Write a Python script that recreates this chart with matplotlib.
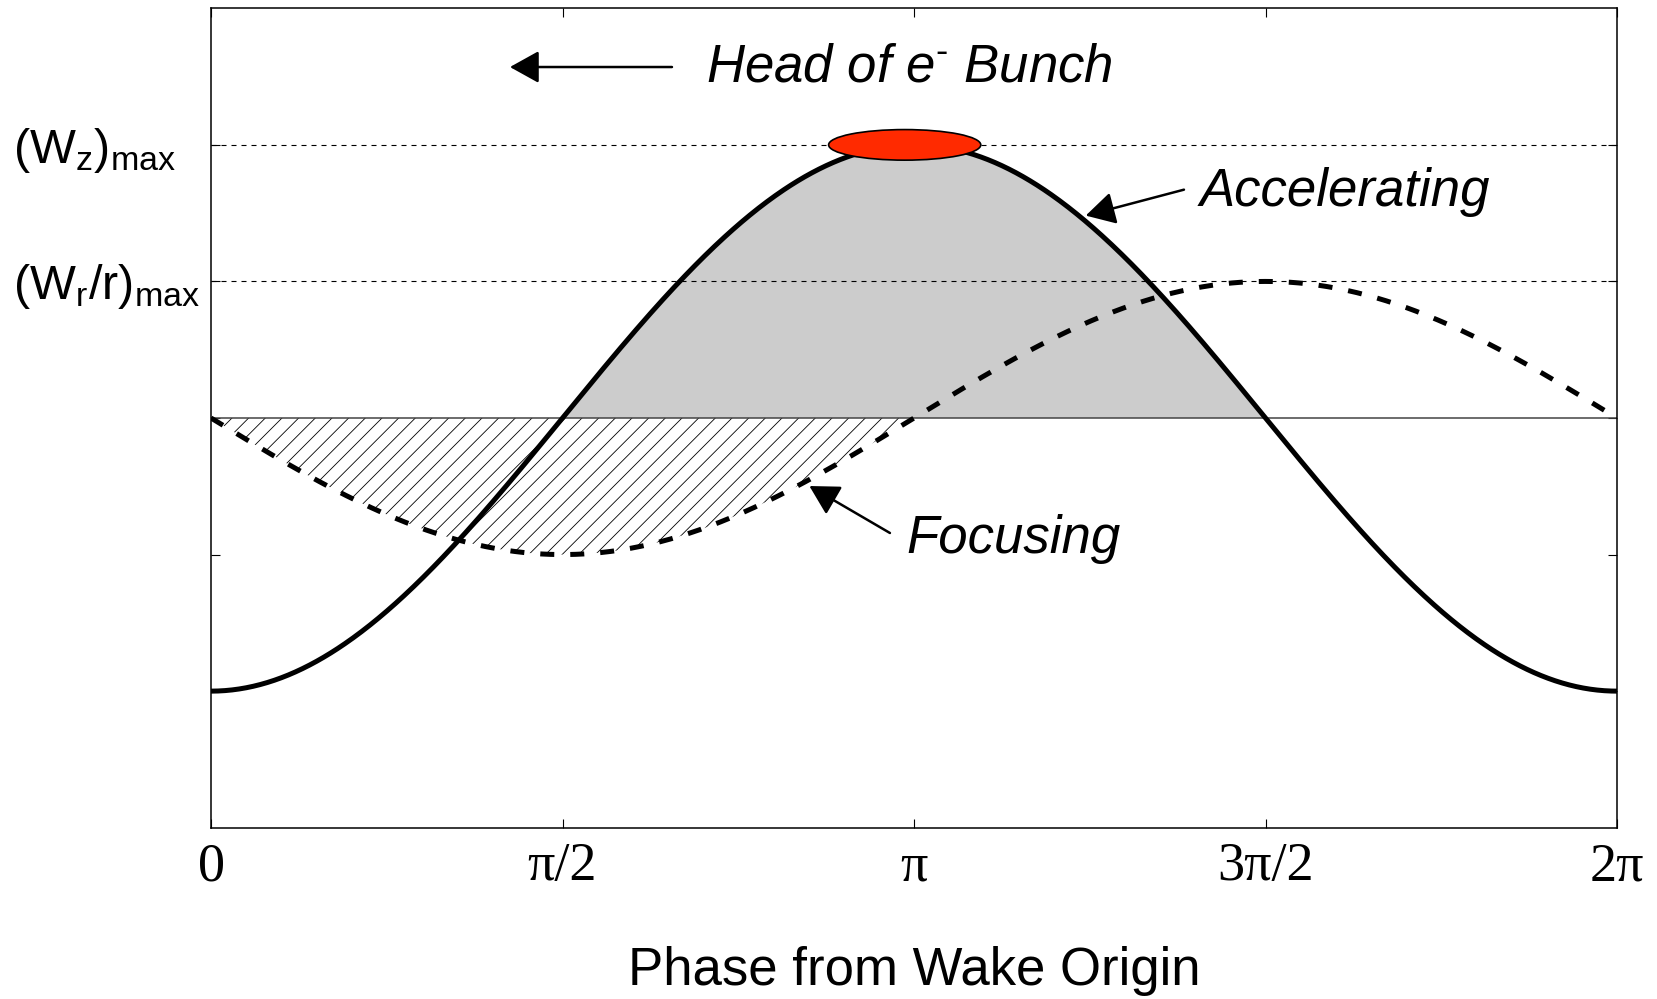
import numpy as np
import matplotlib
matplotlib.use("Agg")
import matplotlib.pyplot as plt
from matplotlib.patches import Ellipse
from matplotlib import transforms

# ---- data ----
phase_start, phase_end = 0.0, 2 * np.pi
wz_amplitude = 1.0          # accelerating field (W_z)max
wr_amplitude = 0.5          # focusing field (W_r/r)max
xtick_values = [0, np.pi / 2, np.pi, 3 * np.pi / 2, 2 * np.pi]
xtick_labels = ["0", "π/2", "π", "3π/2", "2π"]
ytick_values = [-1.0, -0.5, 0.0, 0.5, 1.0]
ylabel_texts = [r"$\mathregular{(W_z)_{max}}$", r"$\mathregular{(W_r/r)_{max}}$"]
ylabel_levels = [1.0, 0.5]
bunch_center = (3.10, 1.0)
bunch_size = (0.68, 0.112)
x_label = "Phase from Wake Origin"

plt.rcParams["mathtext.fontset"] = "custom"
plt.rcParams["mathtext.rm"] = "Liberation Sans"
plt.rcParams["mathtext.it"] = "Liberation Sans:italic"
plt.rcParams["font.family"] = ["Liberation Sans", "DejaVu Sans"]
plt.rcParams["hatch.linewidth"] = 0.6

phi = np.linspace(phase_start, phase_end, 1000)
wz = -wz_amplitude * np.cos(phi)
wr = -wr_amplitude * np.sin(phi)

fig = plt.figure(figsize=(16.57, 9.99), dpi=100)
ax = fig.add_axes([211 / 1657, (999 - 827.7) / 999, 1406 / 1657, (827.7 - 8.3) / 999])

# fills
ax.fill_between(phi, wz, 0, where=wz > 0, facecolor="#cccccc", edgecolor="none", zorder=1)
ax.fill_between(phi, wr, 0, where=wr < 0, facecolor="none", edgecolor="black",
                hatch="//", linewidth=0, zorder=1.5)

# reference lines
for lv in ylabel_levels:
    ax.axhline(lv, color="black", lw=0.8, dashes=(4.5, 4.5), zorder=2)
ax.axhline(0, color="#444444", lw=1.1, zorder=2)

# curves
ax.plot(phi, wz, color="black", lw=3.6, solid_capstyle="butt", zorder=3)
ax.plot(phi, wr, color="black", lw=3.6, dashes=(2.8, 3.2), dash_capstyle="butt", zorder=3)

# electron bunch
ax.add_patch(Ellipse(bunch_center, bunch_size[0], bunch_size[1], facecolor="#ff2a00",
                     edgecolor="black", lw=1.2, zorder=4))

ax.set_xlim(phase_start, phase_end)
ax.set_ylim(-1.5, 1.5)
ax.set_xticks(xtick_values)
ax.set_xticklabels(xtick_labels, fontsize=39, family=["Liberation Serif", "DejaVu Serif"])
ax.set_yticks(ytick_values)
ax.set_yticklabels([])
ax.tick_params(direction="in", length=6.5, width=0.8, top=True, right=True, pad=10)
for sp in ax.spines.values():
    sp.set_linewidth(1.1)

# y labels (left aligned in figure)
trans = transforms.blended_transform_factory(fig.transFigure, ax.transData)
for txt, lv in zip(ylabel_texts, ylabel_levels):
    ax.text(13 / 1657, lv - 0.066, txt, transform=trans, ha="left", va="baseline",
            fontsize=35, clip_on=False)

fig.text(914 / 1657, (999 - 985) / 999, x_label, ha="center", va="baseline", fontsize=38)

arrow_kw = dict(arrowstyle="-|>,head_length=0.9,head_width=0.5", color="black", lw=1.8,
                shrinkA=0, shrinkB=0, mutation_scale=20)

# annotations
ax.annotate("", xy=(1.336, 1.285), xytext=(2.060, 1.285), arrowprops=arrow_kw, zorder=5)
ax.text(2.212, 1.232, r"Head of e$^{\text{-}}$ Bunch", fontsize=38, style="italic",
        ha="left", va="baseline", zorder=5)

ax.annotate("", xy=(3.909, 0.741), xytext=(4.348, 0.836), arrowprops=arrow_kw, zorder=5)
ax.text(4.417, 0.778, "Accelerating", fontsize=38, style="italic",
        ha="left", va="baseline", zorder=5)

ax.annotate("", xy=(2.674, -0.249), xytext=(3.034, -0.421), arrowprops=arrow_kw, zorder=5)
ax.text(3.106, -0.496, "Focusing", fontsize=38, style="italic",
        ha="left", va="baseline", zorder=5)

fig.savefig("out.png", dpi=100)
